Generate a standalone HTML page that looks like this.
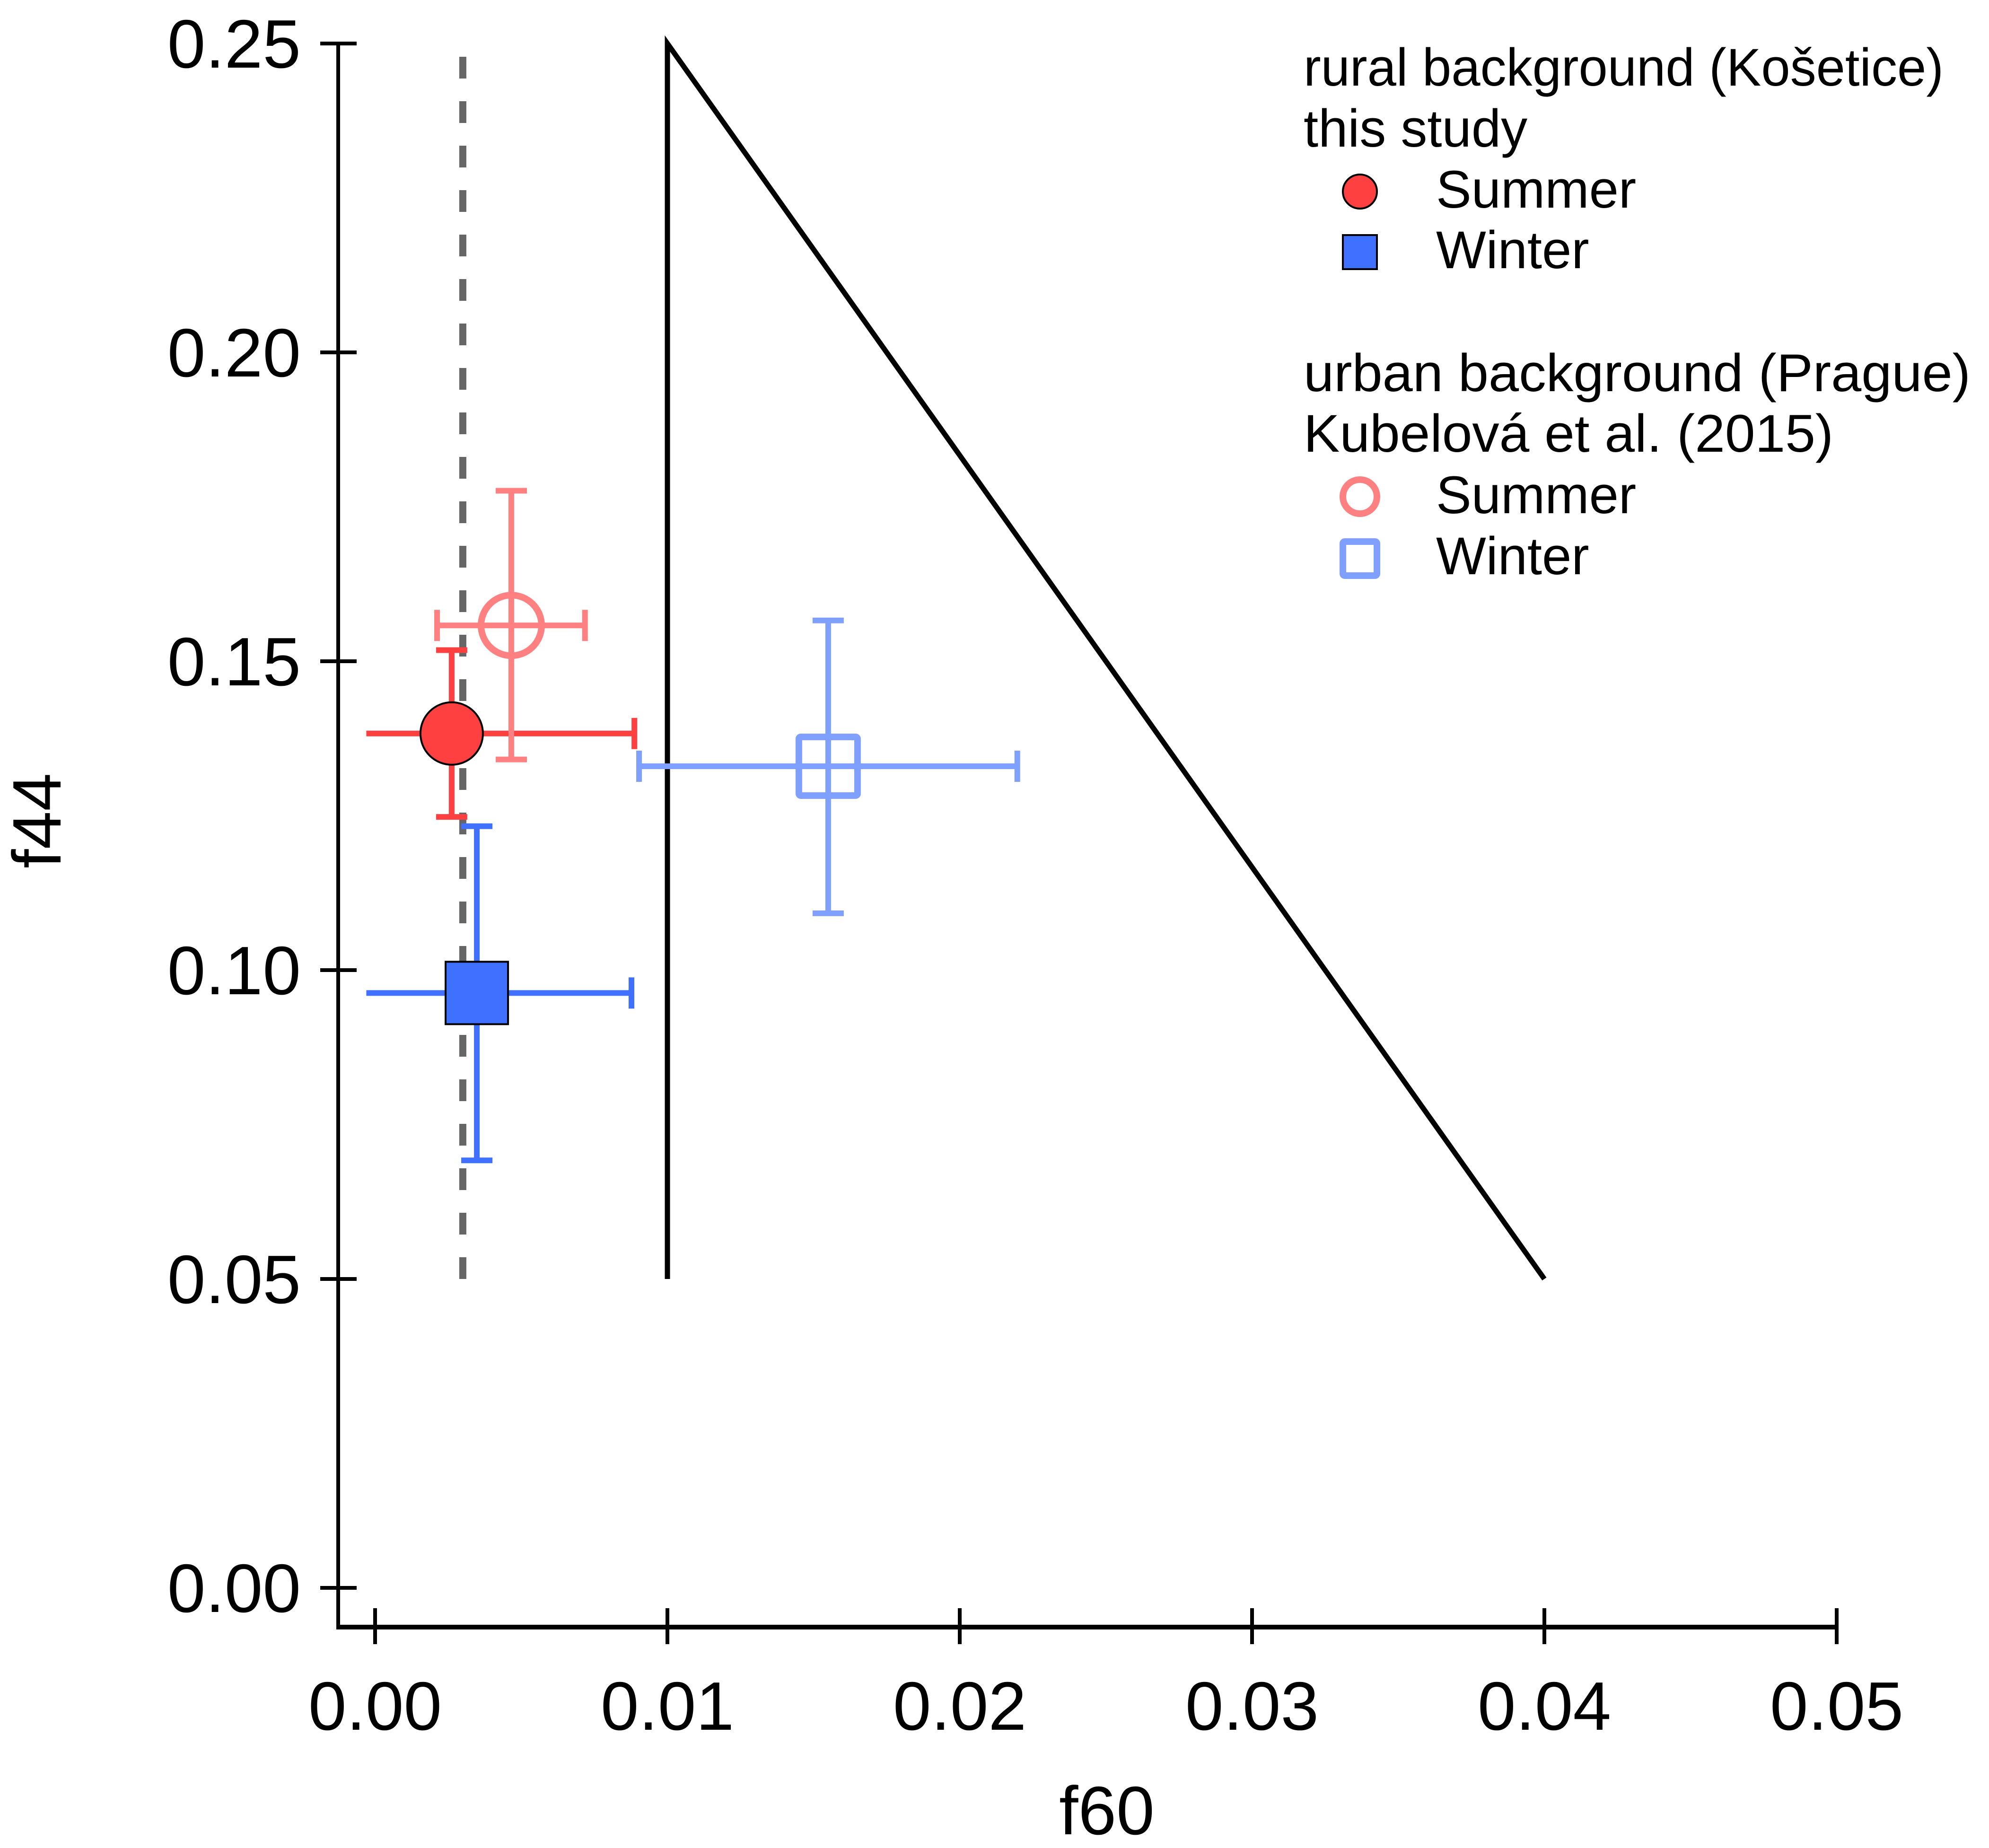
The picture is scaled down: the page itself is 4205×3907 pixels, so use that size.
<!DOCTYPE html>
<html><head><meta charset="utf-8"><style>
html,body{margin:0;padding:0;background:#fff;}
svg{display:block;font-family:"Liberation Sans",Arial,sans-serif;}
</style></head><body>
<svg id="chart" xmlns="http://www.w3.org/2000/svg" width="4205" height="3907" viewBox="0 0 4205 3907">
<rect width="4205" height="3907" fill="#fff"/>
<g id="axes"></g>
<g id="guides"></g>
<g id="marks"></g>
<g id="legend">
  <text x="2756" y="181" font-size="112" textLength="1353" lengthAdjust="spacingAndGlyphs">rural background (Košetice)</text>
  <text x="2756" y="310" font-size="112">this study</text>
  <circle cx="2875" cy="405" r="36" fill="#ff4040" stroke="#000" stroke-width="4"/>
  <text x="3036" y="439" font-size="112">Summer</text>
  <rect x="2839" y="497" width="72" height="72" fill="#4070ff" stroke="#000" stroke-width="4"/>
  <text x="3036" y="567" font-size="112">Winter</text>
  <text x="2756" y="827" font-size="112" textLength="1410" lengthAdjust="spacingAndGlyphs">urban background (Prague)</text>
  <text x="2756" y="955" font-size="112" textLength="1120" lengthAdjust="spacingAndGlyphs">Kubelová et al. (2015)</text>
  <circle cx="2875" cy="1050" r="36" fill="none" stroke="#ff8080" stroke-width="14"/>
  <text x="3036" y="1085" font-size="112">Summer</text>
  <rect x="2839" y="1145" width="72" height="72" rx="4" fill="none" stroke="#80a0ff" stroke-width="14"/>
  <text x="3036" y="1214" font-size="112">Winter</text>
</g>
<text x="2340" y="3878" font-size="145" text-anchor="middle">f60</text>
<text transform="translate(128,1735) rotate(-90)" font-size="145" text-anchor="middle">f44</text>
</svg>
<script>
const xTicks = [0, 0.01, 0.02, 0.03, 0.04, 0.05];
const xTickLabels = ["0.00", "0.01", "0.02", "0.03", "0.04", "0.05"];
const yTicks = [0, 0.05, 0.10, 0.15, 0.20, 0.25];
const yTickLabels = ["0.00", "0.05", "0.10", "0.15", "0.20", "0.25"];
const seriesNames = ["rural-summer", "rural-winter", "urban-summer", "urban-winter"];
const f60Values = [0.00262, 0.00348, 0.00466, 0.0155];
const f44Values = [0.1383, 0.0963, 0.1558, 0.1330];
const f60Low = [-0.0003, -0.0003, 0.00212, 0.00903];
const f60High = [0.00887, 0.00877, 0.00718, 0.02197];
const f44Low = [0.1248, 0.0692, 0.1341, 0.1092];
const f44High = [0.1518, 0.1233, 0.1776, 0.1566];
const dashedF60 = [0.003, 0.003];
const dashedF44 = [0.05, 0.25];
const triangleF60 = [0.01, 0.01, 0.04];
const triangleF44 = [0.05, 0.25, 0.05];

const NS = "http://www.w3.org/2000/svg";
function X(v){ return 793 + v * 61800; }
function Y(v){ return 92 + (0.25 - v) * 13060; }
function mk(tag, attrs, parent){
  const el = document.createElementNS(NS, tag);
  for (const k in attrs) el.setAttribute(k, attrs[k]);
  parent.appendChild(el);
  return el;
}
const axes = document.getElementById('axes');
const guides = document.getElementById('guides');
const marks = document.getElementById('marks');

let el = mk('line', {x1:715, y1:Y(0.25), x2:715, y2:3440, stroke:'#000', 'stroke-width':8}, axes);


el = mk('line', {x1:711, y1:3440, x2:X(0.05)+4, y2:3440, stroke:'#000', 'stroke-width':10}, axes);



yTicks.forEach((v, i) => {
  const t = mk('line', {x1:677, y1:Y(v), x2:754, y2:Y(v), stroke:'#000', 'stroke-width':8}, axes);
  
  
  const l = mk('text', {x:636, y:Y(v)+51, 'font-size':145, 'text-anchor':'end'}, axes);
  l.textContent = yTickLabels[i];
  
  
});
xTicks.forEach((v, i) => {
  const t = mk('line', {x1:X(v), y1:3400, x2:X(v), y2:3476, stroke:'#000', 'stroke-width':8}, axes);
  
  
  const l = mk('text', {x:X(v), y:3657, 'font-size':145, 'text-anchor':'middle'}, axes);
  l.textContent = xTickLabels[i];
  
  
});

el = mk('line', {x1:X(dashedF60[0]), y1:Y(dashedF44[0]), x2:X(dashedF60[1]), y2:Y(dashedF44[1]), stroke:'#666', 'stroke-width':15, 'stroke-dasharray':'46 48'}, guides);


el = mk('polyline', {points: triangleF60.map((v,i)=>X(v)+','+Y(triangleF44[i])).join(' '), fill:'none', stroke:'#000', 'stroke-width':11}, guides);



const colors = ['#ff4040', '#4070ff', '#ff8080', '#80a0ff'];
const cap = 33;
seriesNames.forEach((name, i) => {
  const g = mk('g', {}, marks);
  
  
  const c = colors[i];
  const cx = X(f60Values[i]), cy = Y(f44Values[i]);
  const xl = X(f60Low[i]), xh = X(f60High[i]), yl = Y(f44Low[i]), yh = Y(f44High[i]);
  const eb = mk('path', {d:`M${xl},${cy}H${xh}M${xh},${cy-cap}V${cy+cap}M${cx},${yl}V${yh}M${cx-cap},${yh}H${cx+cap}M${cx-cap},${yl}H${cx+cap}` + (i>=2 ? `M${xl},${cy-cap}V${cy+cap}` : ''), stroke:c, 'stroke-width':12, fill:'none'}, g);
  
  
  let m;
  if (i === 0) m = mk('circle', {cx, cy, r:66, fill:c, stroke:'#000', 'stroke-width':4}, g);
  else if (i === 1) m = mk('rect', {x:cx-66, y:cy-66, width:132, height:132, fill:c, stroke:'#000', 'stroke-width':4}, g);
  else if (i === 2) m = mk('circle', {cx, cy, r:64, fill:'none', stroke:c, 'stroke-width':14}, g);
  else m = mk('rect', {x:cx-62, y:cy-62, width:124, height:124, rx:4, fill:'none', stroke:c, 'stroke-width':14}, g);
  
  
});
</script>
</body></html>
